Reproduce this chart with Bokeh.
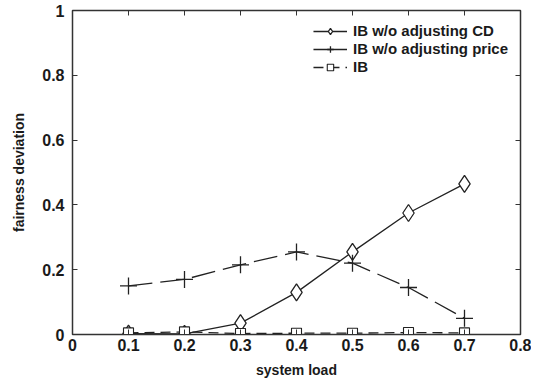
from bokeh.plotting import figure
from bokeh.models import LinearAxis, FixedTicker, Range1d, Legend, LegendItem
from bokeh.embed import file_html
from bokeh.resources import INLINE

load = [0.1, 0.2, 0.3, 0.4, 0.5, 0.6, 0.7]
ib_wo_cd = [0.003, 0.002, 0.035, 0.13, 0.255, 0.375, 0.465]
ib_wo_price = [0.15, 0.17, 0.215, 0.255, 0.22, 0.145, 0.05]
ib = [0.005, 0.008, 0.003, 0.004, 0.004, 0.006, 0.005]
x_ticks = [0, 0.1, 0.2, 0.3, 0.4, 0.5, 0.6, 0.7, 0.8]
y_ticks = [0, 0.2, 0.4, 0.6, 0.8, 1]

FONT = "Liberation Sans"

p = figure(frame_width=448, frame_height=324, output_backend="svg", toolbar_location=None,
           x_range=Range1d(0, 0.8), y_range=Range1d(0, 1),
           min_border_left=72, min_border_right=11, min_border_top=10, min_border_bottom=41)
p.xgrid.visible = False
p.ygrid.visible = False
p.outline_line_color = "#333333"
p.outline_line_width = 1.5

for ax, ticks in ((p.xaxis[0], x_ticks), (p.yaxis[0], y_ticks)):
    ax.ticker = FixedTicker(ticks=ticks)
    ax.major_tick_in = 5
    ax.major_tick_out = 0
    ax.minor_tick_line_color = None
    ax.axis_line_color = "#333333"
    ax.major_tick_line_color = "#333333"
    ax.major_label_text_font = FONT
    ax.major_label_text_font_style = "bold"
    ax.major_label_text_font_size = "16px"
    ax.major_label_text_color = "#1a1a1a"
    ax.axis_label_text_font = FONT
    ax.axis_label_text_font_style = "bold"
    ax.axis_label_text_font_size = "14px"
    ax.axis_label_text_color = "#1a1a1a"

p.xaxis[0].major_label_overrides = {0: "0", 0.1: "0.1", 0.2: "0.2", 0.3: "0.3", 0.4: "0.4",
                                    0.5: "0.5", 0.6: "0.6", 0.7: "0.7", 0.8: "0.8"}
p.yaxis[0].major_label_overrides = {0: "0", 0.2: "0.2", 0.4: "0.4", 0.6: "0.6", 0.8: "0.8", 1: "1"}
p.xaxis[0].axis_label = "system load"
p.yaxis[0].axis_label = "fairness deviation"
p.xaxis[0].major_label_standoff = 4
p.xaxis[0].axis_label_standoff = 8
p.yaxis[0].major_label_standoff = 8
p.yaxis[0].axis_label_standoff = 12

for loc, ticks in (("above", x_ticks), ("right", y_ticks)):
    a = LinearAxis(ticker=FixedTicker(ticks=ticks), major_tick_in=5, major_tick_out=0,
                   minor_tick_line_color=None, major_label_text_font_size="1px",
                   major_label_overrides={t: "" for t in ticks},
                   axis_line_color="#333333", major_tick_line_color="#333333",
                   major_label_standoff=0, axis_label_standoff=0)
    p.add_layout(a, loc)

lc = "#222222"
r1 = p.line(load, ib_wo_cd, line_color=lc, line_width=1.3)
r1m = p.scatter(load, ib_wo_cd, marker="diamond", size=17, fill_color="white",
                line_color=lc, line_width=1.3)
r2 = p.line(load, ib_wo_price, line_color=lc, line_width=1.3, line_dash="24 8")
r2m = p.scatter(load, ib_wo_price, marker="cross", size=17, line_color=lc, line_width=1.3)
r3 = p.line(load, ib, line_color=lc, line_width=1.3, line_dash="10 6")
r3m = p.scatter(load, ib, marker="square", size=10, fill_color="white",
                line_color=lc, line_width=1.1)

r2l = p.line([-1, -0.9], [-1, -1], line_color=lc, line_width=1.3)

legend = Legend(items=[
    LegendItem(label="IB w/o adjusting CD", renderers=[r1, r1m]),
    LegendItem(label="IB w/o adjusting price", renderers=[r2l, r2m]),
    LegendItem(label="IB", renderers=[r3, r3m]),
], location="top_right")
legend.label_text_font = FONT
legend.label_text_font_style = "bold"
legend.label_text_font_size = "15px"
legend.label_text_color = "#1a1a1a"
legend.border_line_color = None
legend.background_fill_alpha = 0
legend.glyph_width = 34
legend.glyph_height = 16
legend.label_height = 16
legend.spacing = 1
legend.padding = 4
legend.margin = 12
legend.label_standoff = 6
p.add_layout(legend)

open("out.html", "w").write(file_html(p, INLINE))
